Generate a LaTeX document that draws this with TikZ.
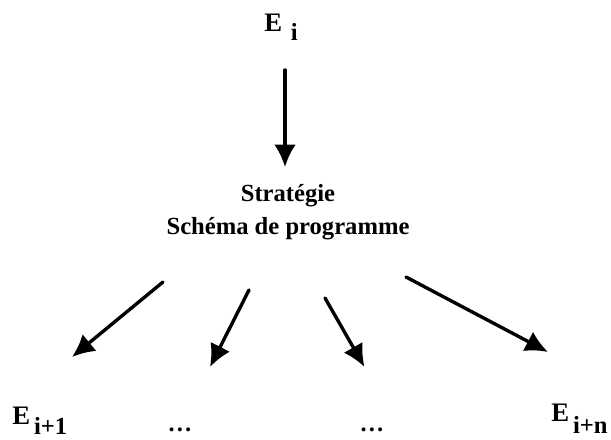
\documentclass[tikz,border=0pt]{standalone}
\usepackage{fontspec}
\setmainfont{Liberation Serif}
\usetikzlibrary{arrows.meta}
\newcommand{\Elab}[3]{{\fontsize{19}{23}\selectfont E}\hspace{#2}\raisebox{-#3}{#1}}

\begin{document}
\begin{tikzpicture}[x=0.025cm, y=-0.025cm,
    lab/.style={inner sep=0pt, font=\bfseries\fontsize{17.5}{23}\selectfont},
    arr/.style={-{Latex[length=16pt, width=15.5pt]}, line width=2.4pt, line cap=round}]
  \useasboundingbox (0,0) rectangle (611,440);
  % states and strategy
  \node[lab, anchor=base west] (ei) at (264,32) {\Elab{i}{0.22cm}{0.2cm}};
  \node[lab, align=center] (strat) at (288,212) {Stratégie\\Schéma de programme};
  \node[lab, anchor=base west] (enext) at (12,424) {\Elab{i+1}{0.1cm}{0.26cm}};
  \node[lab, anchor=base] (dotsa) at (180,431) {\dots};
  \node[lab, anchor=base] (dotsb) at (372,431) {\dots};
  \node[lab, anchor=base west] (elast) at (551,421) {\Elab{i+n}{0.1cm}{0.3cm}};
  % arrow ends
  \coordinate (s0) at (285,70);    \coordinate (t0) at (285,167);
  \coordinate (s1) at (163,282);   \coordinate (t1) at (72,357);
  \coordinate (s2) at (249,290);   \coordinate (t2) at (210,367);
  \coordinate (s3) at (325,298);   \coordinate (t3) at (364.5,367);
  \coordinate (s4) at (406,277);   \coordinate (t4) at (548,352);
  \draw[arr] (s0) -- (t0);
  \draw[arr] (s1) -- (t1);
  \draw[arr] (s2) -- (t2);
  \draw[arr] (s3) -- (t3);
  \draw[arr] (s4) -- (t4);
\end{tikzpicture}
\end{document}
